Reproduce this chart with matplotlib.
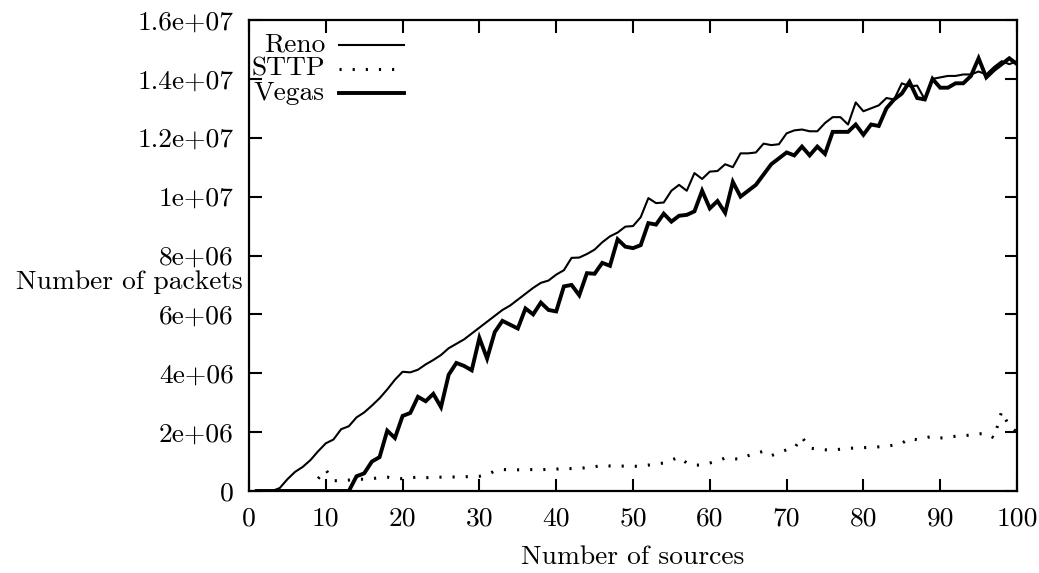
import matplotlib
matplotlib.use("Agg")
import matplotlib.pyplot as plt

# Data (values in packets)
sources = list(range(1, 101))

reno = [0, 0, 0, 0.1, 0.4, 0.65, 0.82, 1.05, 1.35, 1.62,
        1.75, 2.1, 2.2, 2.5, 2.67, 2.9, 3.15, 3.45, 3.78, 4.05,
        4.03, 4.12, 4.3, 4.45, 4.62, 4.85, 5.0, 5.15, 5.35, 5.55,
        5.75, 5.95, 6.15, 6.3, 6.5, 6.7, 6.9, 7.07, 7.15, 7.35,
        7.5, 7.92, 7.93, 8.05, 8.2, 8.45, 8.65, 8.78, 8.98, 9.0,
        9.3, 9.95, 9.78, 9.8, 10.2, 10.4, 10.2, 10.8, 10.6, 10.85,
        10.87, 11.1, 11.0, 11.47, 11.47, 11.5, 11.8, 11.75, 11.78, 12.15,
        12.25, 12.28, 12.22, 12.22, 12.5, 12.7, 12.7, 12.45, 13.2, 12.9,
        13.0, 13.1, 13.35, 13.3, 13.85, 13.75, 13.77, 13.3, 14.0, 14.05,
        14.1, 14.1, 14.15, 14.15, 14.25, 14.15, 14.4, 14.6, 14.5, 14.6]

vegas = [0, 0, 0, 0, 0, 0, 0, 0, 0, 0,
         0, 0, 0, 0.5, 0.6, 1.0, 1.15, 2.05, 1.8, 2.55,
         2.65, 3.2, 3.05, 3.3, 2.85, 3.95, 4.35, 4.25, 4.1, 5.2,
         4.5, 5.4, 5.78, 5.65, 5.52, 6.2, 6.0, 6.4, 6.15, 6.1,
         6.95, 7.0, 6.65, 7.4, 7.38, 7.75, 7.65, 8.55, 8.3, 8.25,
         8.35, 9.1, 9.05, 9.42, 9.15, 9.35, 9.38, 9.5, 10.2, 9.6,
         9.85, 9.45, 10.5, 10.0, 10.2, 10.4, 10.75, 11.1, 11.3, 11.5,
         11.4, 11.7, 11.4, 11.7, 11.45, 12.2, 12.2, 12.2, 12.45, 12.1,
         12.45, 12.4, 13.0, 13.3, 13.5, 13.9, 13.35, 13.3, 14.0, 13.7,
         13.7, 13.85, 13.85, 14.1, 14.7, 14.05, 14.3, 14.5, 14.7, 14.5]

sttp_sources = list(range(9, 101))
sttp = [0.42, 0.72, 0.35, 0.35, 0.37, 0.4, 0.4, 0.42, 0.45, 0.47,
        0.42, 0.42, 0.45, 0.47, 0.45, 0.47, 0.47, 0.47, 0.48, 0.48,
        0.5, 0.5, 0.55, 0.68, 0.73, 0.72, 0.72, 0.72, 0.73, 0.72,
        0.74, 0.74, 0.78, 0.76, 0.76, 0.8, 0.82, 0.88, 0.85, 0.84,
        0.85, 0.84, 0.84, 0.88, 0.92, 0.95, 1.05, 1.15, 0.95, 0.88,
        0.88, 0.95, 1.02, 1.12, 1.1, 1.08, 1.2, 1.28, 1.35, 1.2,
        1.3, 1.4, 1.45, 1.83, 1.46, 1.42, 1.4, 1.39, 1.42, 1.45,
        1.46, 1.47, 1.49, 1.5, 1.52, 1.56, 1.62, 1.79, 1.74, 1.8,
        1.86, 1.8, 1.82, 1.86, 1.88, 1.9, 1.94, 1.96, 1.8, 2.7,
        2.2, 2.0]

y_ticks = [0, 2e6, 4e6, 6e6, 8e6, 1e7, 1.2e7, 1.4e7, 1.6e7]
y_ticklabels = ["0", "2e+06", "4e+06", "6e+06", "8e+06", "1e+07",
                "1.2e+07", "1.4e+07", "1.6e+07"]
x_ticks = [0, 10, 20, 30, 40, 50, 60, 70, 80, 90, 100]

plt.rcParams["font.family"] = "cmr10"
plt.rcParams["axes.formatter.use_mathtext"] = True
FS = 19.8
DOTS = (0, (0.7, 3.6))

fig = plt.figure(figsize=(10.39, 5.73), dpi=100)
ax = fig.add_axes([249 / 1039, 1 - 491 / 573, 768 / 1039, 471 / 573])

ax.plot(sources, [v * 1e6 for v in reno], color="black", lw=1.5)
ax.plot(sttp_sources, [v * 1e6 for v in sttp], color="black", lw=2.2,
        linestyle=DOTS)
ax.plot(sources, [v * 1e6 for v in vegas], color="black", lw=2.8,
        solid_joinstyle="miter")

ax.set_xlim(0, 100)
ax.set_ylim(0, 1.6e7)
ax.set_xticks(x_ticks)
ax.set_xticklabels([str(t) for t in x_ticks])
ax.set_yticks(y_ticks)
ax.set_yticklabels(y_ticklabels)
ax.tick_params(direction="in", length=9, width=1.5, top=True, right=True,
               labelsize=FS, pad=11)
for sp in ax.spines.values():
    sp.set_linewidth(1.6)

ax.set_xlabel("Number of sources", fontsize=FS, labelpad=11)
ax.set_ylabel("Number of packets", fontsize=FS, rotation=0,
              ha="right", va="center")
ax.yaxis.set_label_coords(-0.008, 0.444)

# legend, gnuplot style (text right-aligned, sample to the right)
leg = [("Reno", dict(lw=1.5, ls="-")),
       ("STTP", dict(lw=2.2, ls=DOTS)),
       ("Vegas", dict(lw=2.8, ls="-"))]
tx = (325 - 249) / 768
lx0, lx1 = (339 - 249) / 768, (404 - 249) / 768
for i, (name, st) in enumerate(leg):
    y = 1 - (45 + 24 * i - 20) / 471
    ax.text(tx, y, name, transform=ax.transAxes, ha="right", va="center",
            fontsize=FS)
    ax.plot([lx0, lx1], [y, y], transform=ax.transAxes, color="black", **st)

fig.savefig("out.png", dpi=100, facecolor="white")
